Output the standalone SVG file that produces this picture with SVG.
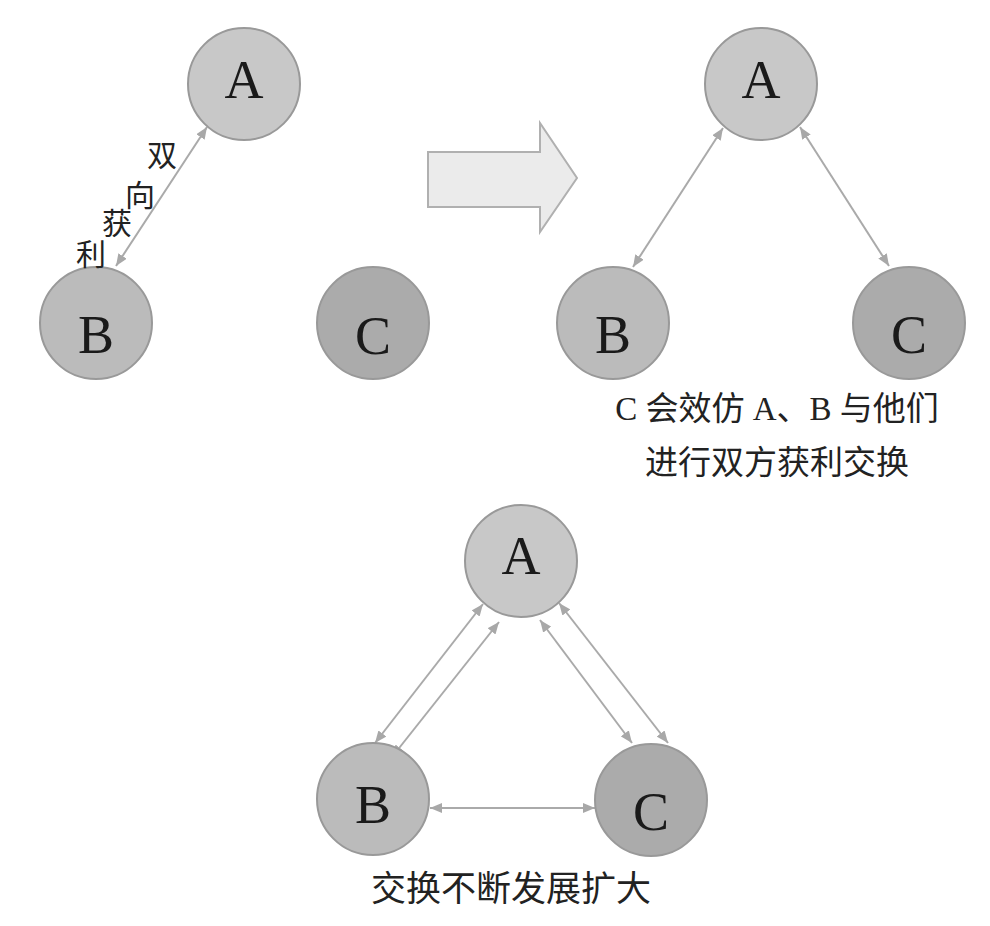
<svg xmlns="http://www.w3.org/2000/svg" width="990" height="926" viewBox="0 0 990 926">
<defs>
<marker id="ah" viewBox="0 0 12 10" refX="12" refY="5" markerWidth="12" markerHeight="10" markerUnits="userSpaceOnUse" orient="auto-start-reverse">
<path d="M0,0 L12,5 L0,10 z" fill="#a8a8a8"/>
</marker>
<style>
.n circle{stroke:#999;stroke-width:2}
.a circle{fill:#c8c8c8}
.b circle{fill:#bbbbbb}
.c circle{fill:#ababab}
.n text{font-family:"Liberation Serif",serif;font-size:54px;fill:#1a1a1a;text-anchor:middle}
.e{stroke:#aaa;stroke-width:2;fill:none;marker-start:url(#ah);marker-end:url(#ah)}
.lbl{font-family:"Liberation Serif","Noto Sans CJK SC",serif;font-size:30px;fill:#222}
.cap{font-family:"Liberation Serif","Noto Sans CJK SC",serif;font-size:33px;fill:#222;text-anchor:middle}
</style>
</defs>
<rect width="990" height="926" fill="#fff"/>
<g id="connectors">
<line class="e" x1="116" y1="266" x2="207" y2="127"/>
<line class="e" x1="633" y1="267" x2="723" y2="128"/>
<line class="e" x1="889" y1="266" x2="800" y2="127"/>
<line class="e" x1="375" y1="743" x2="483" y2="604"/>
<line class="e" x1="392" y1="757" x2="499" y2="622"/>
<line class="e" x1="540" y1="620" x2="632" y2="743"/>
<line class="e" x1="559" y1="603" x2="668" y2="743"/>
<line class="e" x1="430" y1="808" x2="595" y2="808"/>
</g>
<g id="bigArrow">
<path d="M428,152 L540,152 L540,123 L577,178 L540,232 L540,207 L428,207 z" fill="#ebebeb" stroke="#b0b0b0" stroke-width="2"/>
</g>
<g id="A1" class="n a"><circle cx="244" cy="84" r="56"/><text x="244" y="98">A</text></g>
<g id="B1" class="n b"><circle cx="96" cy="323" r="56"/><text x="96" y="353">B</text></g>
<g id="C1" class="n c"><circle cx="373" cy="323" r="56"/><text x="373" y="354">C</text></g>
<g id="label1" class="lbl">
<text x="147" y="166">双</text>
<text x="125" y="206">向</text>
<text x="102" y="234">获</text>
<text x="76" y="265">利</text>
</g>
<g id="A2" class="n a"><circle cx="761" cy="84" r="56"/><text x="761" y="98">A</text></g>
<g id="B2" class="n b"><circle cx="613" cy="323" r="56"/><text x="613" y="353">B</text></g>
<g id="C2" class="n c"><circle cx="909" cy="323" r="56"/><text x="909" y="353">C</text></g>
<g id="cap2">
<text class="cap" x="777" y="420">C 会效仿 A、B 与他们</text>
<text class="cap" x="777" y="474">进行双方获利交换</text>
</g>
<g id="A3" class="n a"><circle cx="521" cy="561" r="56"/><text x="521" y="574">A</text></g>
<g id="B3" class="n b"><circle cx="373" cy="799" r="56"/><text x="373" y="823">B</text></g>
<g id="C3" class="n c"><circle cx="651" cy="800" r="56"/><text x="651" y="830">C</text></g>
<g id="cap3">
<text class="cap" x="511" y="901" style="font-size:35px">交换不断发展扩大</text>
</g>
</svg>
